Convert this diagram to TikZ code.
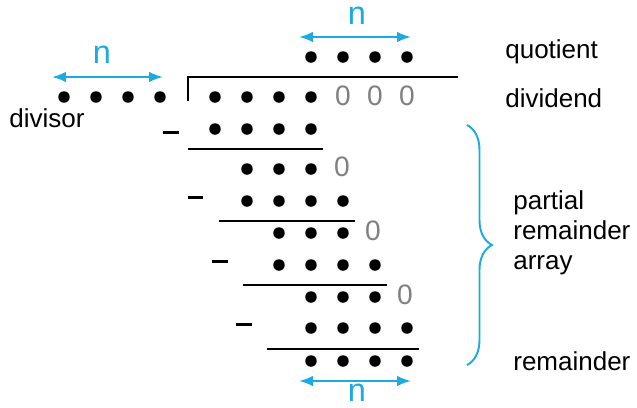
\documentclass[tikz,border=0pt]{standalone}
\usepackage{fontspec}
\setmainfont{Liberation Sans}
\usepackage{xcolor}
\usetikzlibrary{arrows,arrows.meta,decorations.pathreplacing}

\definecolor{nblue}{RGB}{29,170,226}
\definecolor{zgray}{RGB}{128,128,128}

\begin{document}
\begin{tikzpicture}[
    % GLOBAL CFG
    x=0.02cm, y=-0.02cm,
    >=LaTeX,
    % Styles
    bit/.style={% For the dots
        circle,
        fill=black,
        inner sep=0pt,
        minimum size=0.23cm,
        },
    pad/.style={% For the appended zeros
        text=zgray,
        font=\fontsize{16}{16}\selectfont,
        inner sep=0pt,
        },
    minus/.style={% For the minus signs
        line width=1.7pt,
        },
    rule/.style={% For the black lines
        line width=1.3pt,
        },
    width/.style={% For the n arrows
        <->,
        draw=nblue,
        line width=1.1pt,
        },
    nlabel/.style={% For the n
        text=nblue,
        font=\fontsize{18.5}{18.5}\selectfont,
        inner sep=0pt,
        },
    mylabel/.style={% For the names
        font=\fontsize{14.8}{17.1}\selectfont,
        inner sep=0pt,
        },
    ]

    \useasboundingbox (0,0) rectangle (637,407);

    % Quotient and divisor dots
    \foreach \x [count=\i] in {311,343,375,407} \node[bit] (quo\i) at (\x,57) {};
    \foreach \x [count=\i] in {64,96,128,160} \node[bit] (dvs\i) at (\x,97) {};

    % Dividend with its zeros
    \foreach \x [count=\i] in {215,247,279,311} \node[bit] (dvd\i) at (\x,97) {};
    \foreach \x [count=\i] in {343,375,407} \node[pad] (dz\i) at (\x,96) {0};

    % Division bracket
    \coordinate (bb) at (188,101);
    \coordinate (bt) at (188,77);
    \coordinate (be) at (458,77);
    \draw [rule] (bb) -- (bt) -- (be);

    % Subtraction steps named sub#, partial remainders named pr#
    \foreach \x [count=\i] in {215,247,279,311} \node[bit] (sub1\i) at (\x,129) {};
    \coordinate (m1a) at (163,132); \coordinate (m1b) at (179,132);
    \draw [minus] (m1a) -- (m1b);
    \coordinate (l1a) at (188,149); \coordinate (l1b) at (323,149);
    \draw [rule] (l1a) -- (l1b);

    \foreach \x [count=\i] in {247,279,311} \node[bit] (pr1\i) at (\x,169) {};
    \node[pad] (z1) at (342,167) {0};
    \foreach \x [count=\i] in {247,279,311,343} \node[bit] (sub2\i) at (\x,201) {};
    \coordinate (m2a) at (188,197); \coordinate (m2b) at (203,197);
    \draw [minus] (m2a) -- (m2b);
    \coordinate (l2a) at (219,221); \coordinate (l2b) at (355,221);
    \draw [rule] (l2a) -- (l2b);

    \foreach \x [count=\i] in {279,311,343} \node[bit] (pr2\i) at (\x,233) {};
    \node[pad] (z2) at (373,231) {0};
    \foreach \x [count=\i] in {279,311,343,375} \node[bit] (sub3\i) at (\x,265) {};
    \coordinate (m3a) at (212,261); \coordinate (m3b) at (228,261);
    \draw [minus] (m3a) -- (m3b);
    \coordinate (l3a) at (243,285); \coordinate (l3b) at (387,285);
    \draw [rule] (l3a) -- (l3b);

    \foreach \x [count=\i] in {311,343,375} \node[bit] (pr3\i) at (\x,297) {};
    \node[pad] (z3) at (405,295) {0};
    \foreach \x [count=\i] in {311,343,375,407} \node[bit] (sub4\i) at (\x,328) {};
    \coordinate (m4a) at (236,324); \coordinate (m4b) at (252,324);
    \draw [minus] (m4a) -- (m4b);
    \coordinate (l4a) at (267,349); \coordinate (l4b) at (419,349);
    \draw [rule] (l4a) -- (l4b);

    % Remainder
    \foreach \x [count=\i] in {311,343,375,407} \node[bit] (rem\i) at (\x,361) {};

    % Widths
    \coordinate (wqa) at (299,37); \coordinate (wqb) at (411,37);
    \draw [width] (wqa) -- (wqb);
    \node[nlabel] (nq) at (357,16) {n};
    \coordinate (wda) at (52,77); \coordinate (wdb) at (163,77);
    \draw [width] (wda) -- (wdb);
    \node[nlabel] (nd) at (102,55) {n};
    \coordinate (wra) at (299,381); \coordinate (wrb) at (411,381);
    \draw [width] (wra) -- (wrb);
    \node[nlabel] (nr) at (357,393) {n};

    % Brace over the partial remainders
    \coordinate (ba) at (467,125); \coordinate (bz) at (467,365);
    \draw [nblue, line width=1.1pt, decorate, decoration={brace, amplitude=0.5cm}] (ba) -- (bz);

    % Names
    \node[mylabel, anchor=base west] (quot) at (505,58) {quotient};
    \node[mylabel, anchor=base west] (divd) at (505,107) {dividend};
    \node[mylabel, anchor=base west] (divs) at (9,127) {divisor};
    \node[mylabel, anchor=west, align=left] (pra) at (513,233) {partial\\remainder\\array};
    \node[mylabel, anchor=base west] (remd) at (513,370) {remainder};

\end{tikzpicture}
\end{document}
